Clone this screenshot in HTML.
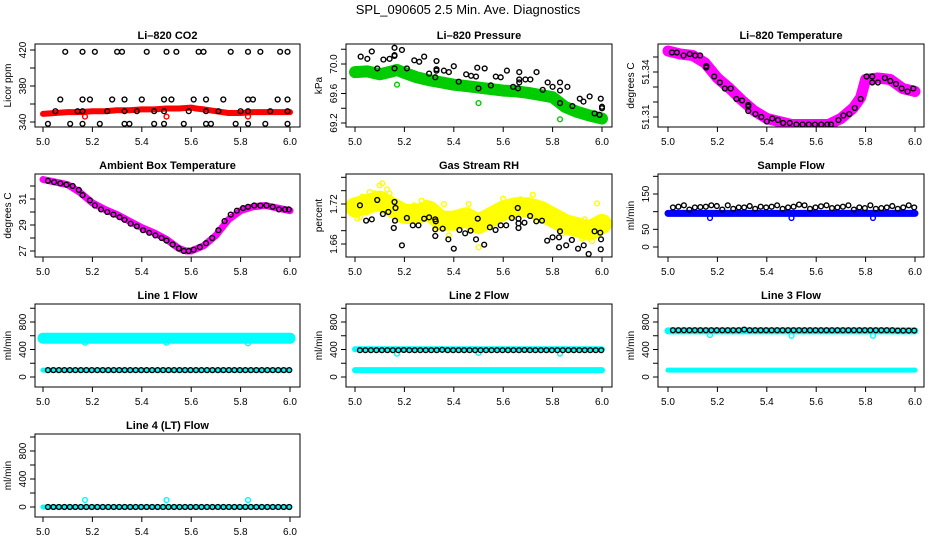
<!DOCTYPE html>
<html><head><meta charset="utf-8"><style>
body{margin:0;background:#fff}
svg{display:block;font-family:"Liberation Sans",sans-serif}
</style></head><body>
<svg id="c" width="936" height="540" viewBox="0 0 936 540" xmlns="http://www.w3.org/2000/svg">
<rect width="936" height="540" fill="#fff"/>
<text x="468" y="14" font-size="13" text-anchor="middle">SPL_090605  2.5 Min. Ave. Diagnostics</text>
</svg>
<script>
// ---- data ----
const xTicks=[5.0,5.2,5.4,5.6,5.8,6.0];
const xTickLabels=["5.0","5.2","5.4","5.6","5.8","6.0"];
// CO2
const co2BlackX=[5.09,5.16,5.21,5.30,5.32,5.42,5.50,5.54,5.63,5.65,5.76,5.83,5.88,5.96,5.99,5.07,5.16,5.19,5.28,5.33,5.40,5.49,5.52,5.61,5.66,5.73,5.83,5.85,5.95,5.99,5.05,5.14,5.16,5.26,5.33,5.38,5.45,5.49,5.59,5.66,5.71,5.80,5.83,5.92,5.99,5.02,5.11,5.16,5.23,5.33,5.35,5.45,5.49,5.57,5.66,5.68,5.78,5.83,5.90,5.99];
const co2BlackY=[418,418,418,418,418,418,418,418,418,418,418,418,418,418,418,365,365,365,365,365,365,365,365,365,365,365,365,365,365,365,352,352,352,352,352,352,352,352,352,352,352,352,352,352,352,338,338,338,338,338,338,338,338,338,338,338,338,338,338,338];
const co2RedX=[5.0,5.05,5.1,5.15,5.2,5.25,5.3,5.35,5.4,5.45,5.5,5.55,5.6,5.62,5.65,5.7,5.75,5.8,5.85,5.9,5.95,6.0];
const co2RedY=[349,350,351,351,352,352,353,353,354,354,355,355,356,355,354,352,350,350,351,351,351,351];
const co2OutX=[5.17,5.5,5.83], co2OutY=[346,346,346];
// Pressure
const prBlackX=[5.023,5.05,5.068,5.09,5.115,5.14,5.16,5.16,5.16,5.16,5.19,5.21,5.24,5.26,5.28,5.30,5.33,5.33,5.33,5.325,5.36,5.38,5.40,5.42,5.45,5.47,5.49,5.495,5.50,5.525,5.55,5.57,5.59,5.615,5.64,5.66,5.665,5.665,5.665,5.69,5.71,5.735,5.76,5.78,5.80,5.83,5.83,5.83,5.86,5.88,5.91,5.925,5.95,5.97,5.995,6.0,6.0,5.99];
const prBlackY=[70.10,70.07,70.17,69.94,70.06,70.07,70.11,70.12,70.22,69.94,70.19,69.94,70.05,70.03,70.10,69.87,70.04,69.93,69.91,69.82,69.91,69.89,69.97,69.76,69.86,69.84,69.83,69.95,69.67,69.94,69.71,69.83,69.82,69.91,69.69,69.67,69.89,69.79,69.75,69.79,69.79,69.89,69.65,69.75,69.69,69.75,69.64,69.47,69.69,69.43,69.53,69.49,69.56,69.33,69.53,69.42,69.40,69.31];
const prGreenX=[5.0,5.05,5.1,5.15,5.17,5.2,5.25,5.3,5.35,5.4,5.45,5.5,5.55,5.6,5.65,5.7,5.75,5.8,5.85,5.9,5.95,6.0];
const prGreenY=[69.89,69.90,69.86,69.90,69.92,69.88,69.82,69.78,69.75,69.72,69.70,69.68,69.66,69.64,69.63,69.61,69.58,69.55,69.42,69.35,69.30,69.26];
const prOutX=[5.17,5.5,5.83], prOutY=[69.72,69.47,69.25];
// Li-820 temperature
const ltBlackX=[5.016,5.036,5.063,5.088,5.11,5.13,5.155,5.155,5.187,5.21,5.23,5.254,5.277,5.30,5.325,5.325,5.325,5.354,5.378,5.40,5.422,5.445,5.466,5.493,5.52,5.545,5.57,5.595,5.62,5.645,5.66,5.69,5.71,5.734,5.756,5.78,5.804,5.827,5.827,5.85,5.878,5.90,5.923,5.946,5.97,5.993];
const ltBlackY=[51.353,51.353,51.351,51.352,51.351,51.351,51.344,51.343,51.337,51.333,51.329,51.329,51.322,51.321,51.318,51.317,51.314,51.312,51.310,51.307,51.309,51.308,51.306,51.306,51.305,51.305,51.305,51.305,51.305,51.305,51.305,51.308,51.311,51.312,51.316,51.322,51.337,51.337,51.333,51.333,51.336,51.334,51.332,51.329,51.327,51.329];
const ltMagX=[5.0,5.05,5.1,5.15,5.2,5.25,5.3,5.35,5.4,5.45,5.5,5.55,5.6,5.65,5.7,5.75,5.78,5.8,5.85,5.9,5.95,6.0];
const ltMagY=[51.354,51.352,51.351,51.346,51.336,51.329,51.321,51.314,51.309,51.307,51.305,51.305,51.305,51.305,51.309,51.316,51.323,51.335,51.336,51.335,51.329,51.327];
// Ambient temperature
const amX=[5.0,5.05,5.1,5.15,5.2,5.25,5.3,5.35,5.4,5.45,5.5,5.55,5.58,5.6,5.65,5.7,5.75,5.8,5.85,5.9,5.95,6.0];
const amY=[32.5,32.3,32.1,31.5,30.7,30.2,29.8,29.3,28.8,28.4,27.9,27.2,27.0,27.0,27.4,28.2,29.4,30.1,30.4,30.5,30.3,30.1];
const amBlackX=[5.02,5.045,5.07,5.095,5.12,5.145,5.16,5.19,5.21,5.235,5.26,5.285,5.31,5.33,5.355,5.38,5.405,5.43,5.455,5.48,5.5,5.525,5.55,5.57,5.59,5.61,5.635,5.66,5.685,5.71,5.735,5.76,5.785,5.81,5.83,5.855,5.88,5.905,5.93,5.955,5.98,5.995];
const amBlackY=[32.4,32.3,32.2,32.1,32.0,31.7,31.3,30.9,30.5,30.2,30.0,29.8,29.6,29.4,29.1,28.9,28.6,28.4,28.2,28.0,27.8,27.5,27.2,27.0,27.0,27.1,27.3,27.6,28.0,28.6,29.3,29.8,30.1,30.3,30.4,30.5,30.5,30.5,30.4,30.2,30.2,30.2];
// Gas stream RH
const rhYelX=[5.0,5.05,5.1,5.15,5.2,5.25,5.3,5.35,5.4,5.45,5.5,5.55,5.6,5.65,5.7,5.75,5.8,5.85,5.9,5.95,6.0];
const rhYelY=[1.715,1.720,1.725,1.715,1.705,1.705,1.710,1.695,1.695,1.700,1.690,1.700,1.710,1.715,1.715,1.710,1.700,1.690,1.685,1.680,1.690];
const rhScatX=[5.01,5.03,5.06,5.08,5.10,5.11,5.13,5.14,5.02,5.05,5.17,5.20,5.24,5.27,5.29,5.31,5.36,5.33,5.38,5.44,5.46,5.50,5.53,5.57,5.60,5.63,5.67,5.70,5.72,5.77,5.82,5.86,5.89,5.93,5.96,5.98,5.99,5.41,5.52,5.58,5.74,5.84,5.92];
const rhScatY=[1.698,1.731,1.738,1.736,1.748,1.751,1.742,1.736,1.700,1.708,1.706,1.713,1.718,1.725,1.722,1.719,1.720,1.684,1.673,1.705,1.720,1.655,1.707,1.714,1.728,1.722,1.727,1.724,1.734,1.716,1.690,1.697,1.677,1.697,1.664,1.721,1.695,1.690,1.702,1.710,1.695,1.676,1.668];
const rhBlackX=[5.02,5.045,5.068,5.09,5.113,5.135,5.16,5.164,5.162,5.157,5.19,5.21,5.234,5.257,5.28,5.30,5.325,5.327,5.325,5.325,5.355,5.378,5.40,5.423,5.446,5.468,5.49,5.497,5.523,5.546,5.569,5.59,5.612,5.635,5.659,5.662,5.662,5.662,5.686,5.709,5.734,5.757,5.778,5.80,5.826,5.83,5.826,5.855,5.878,5.903,5.926,5.946,5.97,5.993,5.996,5.995];
const rhBlackY=[1.718,1.695,1.697,1.726,1.705,1.708,1.723,1.714,1.695,1.684,1.658,1.699,1.688,1.688,1.698,1.700,1.697,1.694,1.682,1.672,1.683,1.667,1.653,1.681,1.676,1.680,1.667,1.698,1.659,1.685,1.681,1.688,1.688,1.699,1.714,1.698,1.691,1.684,1.692,1.702,1.694,1.695,1.665,1.670,1.670,1.679,1.655,1.658,1.666,1.653,1.658,1.645,1.679,1.677,1.667,1.652];
// Flows
const flowBlueX=[5.0,6.0];
const sampleBlueY=[95,95];
const sampleBlackY=[112,114,118,106,112,113,114,118,116,106,118,108,112,112,116,108,114,112,114,118,108,112,114,120,118,108,112,115,118,110,112,114,118,106,112,110,118,108,110,112,116,108,112,118,112];
const line1Black=[100,100,100,100,100,100,100,100,100,100,100,100,100,100,100,100,100,100,100,100,100,100,100,100,100,100,100,100,100,100,100,100,100,100,100,100,100,100,100,100,100,100,100,100,100];
const line2Black=[390,390,390,390,390,390,390,390,392,390,390,390,390,390,390,395,390,390,390,390,390,390,390,390,390,390,390,390,390,390,392,390,390,390,390,390,390,390,390,390,390,390,390,390,390];
const line3Black=[680,680,680,680,680,680,680,680,680,680,680,680,680,690,680,680,680,680,680,680,680,680,680,680,680,680,680,680,680,680,680,680,680,680,680,680,680,680,680,680,680,675,675,675,675];
const line4Black=[0,0,0,0,0,0,0,0,0,0,0,0,0,0,0,0,0,0,0,0,0,0,0,0,0,0,0,0,0,0,0,0,0,0,0,0,0,0,0,0,0,0,0,0,0];
const line1CyanHi=[565,565], line1CyanLo=[100,100];
const line2CyanHi=[405,405], line2CyanLo=[100,100];
const line3CyanHi=[670,670], line3CyanLo=[100,100];
const line4CyanHi=[0,0];
const outX=[5.17,5.5,5.83];
const sampleOut=[82,82,82], line1Out=[500,500,490], line2Out=[340,350,340], line3Out=[610,600,600], line4Out=[100,100,100];

// ---- layout ----
const svg=document.getElementById('c');
const NS='http://www.w3.org/2000/svg';
const cols=[{l:35,r:300,x5:43,x6:290},{l:346,r:612,x5:355,x6:602},{l:658,r:924,x5:668,x6:915}];
const rows=[{t:44,b:127},{t:174,b:257},{t:304,b:387},{t:434,b:517}];
function el(tag,attrs,parent){const e=document.createElementNS(NS,tag);for(const k in attrs)e.setAttribute(k,attrs[k]);(parent||svg).appendChild(e);return e;}
let flowTimes=[];for(let i=0;i<45;i++)flowTimes.push(5.02+i*0.0222);

function panel(ci,ri,name,title,ylab,a,b,ticks,labels){
  const c=cols[ci],r=rows[ri];
  const g=el('g',{});
  
  
  const sx=v=>c.x5+(v-5)*(c.x6-c.x5);
  const sy=v=>(r.t+a[1])+(v-a[0])*((b[1]-a[1])/(b[0]-a[0]));
  const t=el('text',{x:(c.l+c.r)/2,y:r.t-5,'font-size':11,'font-weight':'bold','text-anchor':'middle'},g);t.textContent=title;
  
  
  const clipId='clip'+ci+ri;
  const cp=el('clipPath',{id:clipId},g);el('rect',{x:c.l,y:r.t,width:c.r-c.l,height:r.b-r.t},cp);
  const plot=el('g',{'clip-path':'url(#'+clipId+')'},g);
  
  
  xTicks.forEach((v,i)=>{const x=sx(v);el('line',{x1:x,x2:x,y1:r.b,y2:r.b+5,stroke:'#000'},g);
    const tl=el('text',{x:x,y:r.b+18,'font-size':10,'text-anchor':'middle'},g);tl.textContent=xTickLabels[i];});
  el('line',{x1:sx(5),x2:sx(6),y1:r.b,y2:r.b,stroke:'#000'},g);
  ticks.forEach(v=>{const y=sy(v);el('line',{x1:c.l-5,x2:c.l,y1:y,y2:y,stroke:'#000'},g);});
  labels.forEach(v=>{const y=sy(v[0]);const tl=el('text',{x:0,y:0,'font-size':10,'text-anchor':'middle',transform:`translate(${c.l-9},${y}) rotate(-90)`},g);tl.textContent=v[1];});
  const yl=el('text',{x:0,y:0,'font-size':10,'text-anchor':'middle',transform:`translate(${c.l-24},${(r.t+r.b)/2}) rotate(-90)`},g);yl.textContent=ylab;
  
  
  el('rect',{x:c.l,y:r.t,width:c.r-c.l,height:r.b-r.t,fill:'none',stroke:'#000'},g);
  return {sx,sy,plot};
}
function band(p,xs,ys,color,w){const pts=xs.map((x,i)=>p.sx(x).toFixed(1)+','+p.sy(ys[i]).toFixed(1)).join(' ');
  const e=el('polyline',{points:pts,fill:'none',stroke:color,'stroke-width':w,'stroke-linejoin':'round','stroke-linecap':'round'},p.plot);
  
  }
function pts(p,xs,ys,color,rad){xs.forEach((x,i)=>{const e=el('circle',{cx:p.sx(x),cy:p.sy(ys[i]),r:rad||2.4,fill:'none',stroke:color,'stroke-width':1.4},p.plot);
  
  });}

let p;
p=panel(0,0,'li820-co2-panel','Li\u2013820 CO2','Licor ppm',[340,78],[420,6],[340,360,380,400,420],[[340,'340'],[380,'380'],[420,'420']]);
band(p,co2RedX,co2RedY,'#f00',6);pts(p,co2OutX,co2OutY,'#f00');pts(p,co2BlackX,co2BlackY,'#000');
p=panel(1,0,'li820-pressure-panel','Li\u2013820 Pressure','kPa',[69.2,79],[70.0,20],[69.2,69.4,69.6,69.8,70.0,70.2],[[69.2,'69.2'],[69.6,'69.6'],[70.0,'70.0']]);
band(p,prGreenX,prGreenY,'#0c0',12);pts(p,prOutX,prOutY,'#0c0');pts(p,prBlackX,prBlackY,'#000');
p=panel(2,0,'li820-temperature-panel','Li\u2013820 Temperature','degrees C',[51.31,73],[51.34,28],[51.31,51.32,51.33,51.34,51.35],[[51.31,'51.31'],[51.34,'51.34']]);
band(p,ltMagX,ltMagY,'#f0f',11);pts(p,ltBlackX,ltBlackY,'#000');
p=panel(0,1,'ambient-temperature-panel','Ambient Box Temperature','degrees C',[27,77],[31,25],[27,28,29,30,31,32],[[27,'27'],[29,'29'],[31,'31']]);
band(p,amX,amY,'#f0f',7);pts(p,amBlackX,amBlackY,'#000');
p=panel(1,1,'gas-stream-rh-panel','Gas Stream RH','percent',[1.66,70],[1.72,30],[1.66,1.68,1.70,1.72,1.74,1.76],[[1.66,'1.66'],[1.72,'1.72']]);
band(p,rhYelX,rhYelY,'#ff0',20);pts(p,rhScatX,rhScatY,'#ff0');pts(p,rhBlackX,rhBlackY,'#000');
p=panel(2,1,'sample-flow-panel','Sample Flow','ml/min',[0,73],[150,20],[0,50,100,150,200],[[0,'0'],[50,'50'],[150,'150']]);
band(p,flowBlueX,sampleBlueY,'#00f',7);pts(p,outX,sampleOut,'#00f');pts(p,flowTimes,sampleBlackY,'#000');
const fT=[0,200,400,600,800,1000],fL=[[0,'0'],[400,'400'],[800,'800']];
p=panel(0,2,'line1-flow-panel','Line 1 Flow','ml/min',[0,73],[800,18],fT,fL);
band(p,flowBlueX,line1CyanHi,'#0ff',11);band(p,flowBlueX,line1CyanLo,'#0ff',5);pts(p,outX,line1Out,'#0ff');pts(p,flowTimes,line1Black,'#000');
p=panel(1,2,'line2-flow-panel','Line 2 Flow','ml/min',[0,73],[800,18],fT,fL);
band(p,flowBlueX,line2CyanHi,'#0ff',6);band(p,flowBlueX,line2CyanLo,'#0ff',6);pts(p,outX,line2Out,'#0ff');pts(p,flowTimes,line2Black,'#000');
p=panel(2,2,'line3-flow-panel','Line 3 Flow','ml/min',[0,73],[800,18],fT,fL);
band(p,flowBlueX,line3CyanHi,'#0ff',7);band(p,flowBlueX,line3CyanLo,'#0ff',5);pts(p,outX,line3Out,'#0ff');pts(p,flowTimes,line3Black,'#000');
p=panel(0,3,'line4-flow-panel','Line 4 (LT) Flow','ml/min',[0,73],[800,17],fT,fL);
band(p,flowBlueX,line4CyanHi,'#0ff',5);pts(p,outX,line4Out,'#0ff');pts(p,flowTimes,line4Black,'#000');
</script>
</body></html>
